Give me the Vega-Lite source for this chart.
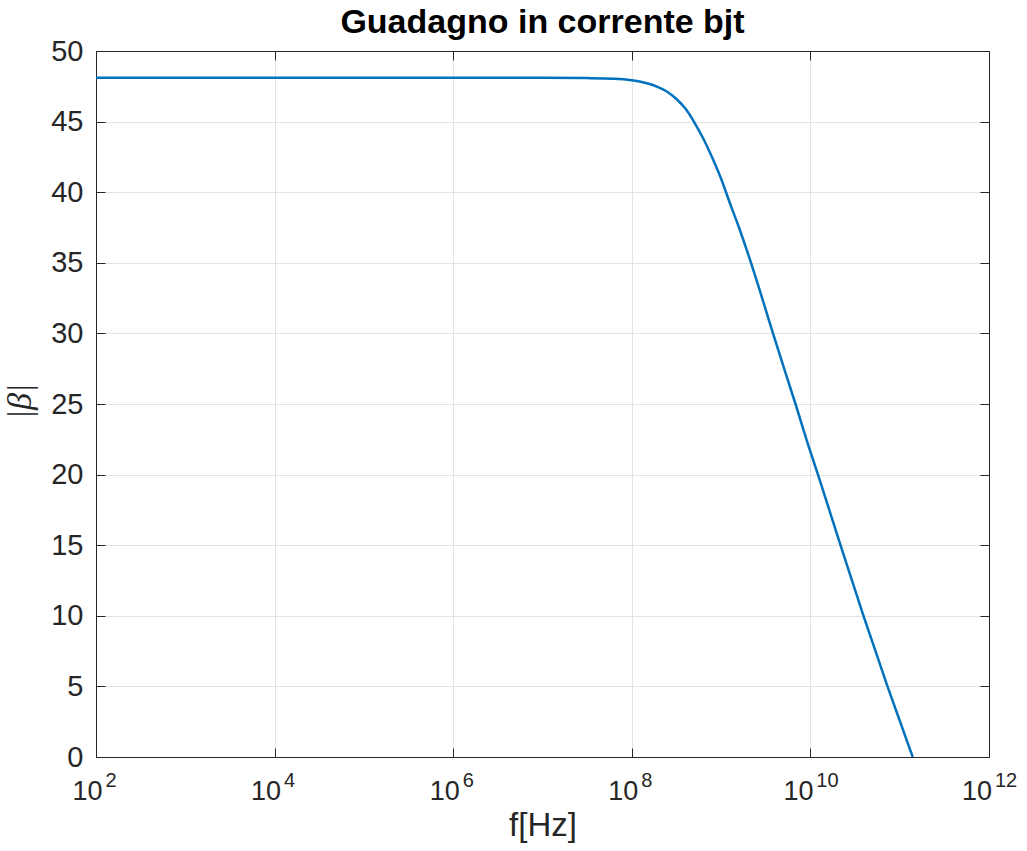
{
  "$schema": "https://vega.github.io/schema/vega-lite/v6.json",
  "width": 893,
  "height": 706,
  "autosize": {"type": "none"},
  "padding": {"left": 96, "top": 51, "right": 38, "bottom": 94},
  "background": "white",
  "config": {
    "view": {"stroke": "#262626", "strokeWidth": 1},
    "font": "Liberation Sans"
  },
  "title": {
    "text": "Guadagno in corrente bjt",
    "fontSize": 34,
    "fontWeight": "bold",
    "font": "Liberation Sans",
    "color": "#000000",
    "anchor": "middle",
    "baseline": "alphabetic",
    "offset": 0,
    "dy": 30
  },
  "data": {
    "values": [
      {"f": 100, "beta": 48.1},
      {"f": 10000, "beta": 48.1},
      {"f": 1000000, "beta": 48.1},
      {"f": 10000000, "beta": 48.1},
      {"f": 31622777, "beta": 48.08},
      {"f": 63095734, "beta": 48.04},
      {"f": 100000000, "beta": 47.93},
      {"f": 125892541, "beta": 47.82},
      {"f": 158489319, "beta": 47.66},
      {"f": 199526231, "beta": 47.42},
      {"f": 251188643, "beta": 47.1},
      {"f": 316227766, "beta": 46.6},
      {"f": 398107171, "beta": 45.92},
      {"f": 501187234, "beta": 44.95},
      {"f": 630957344, "beta": 43.8},
      {"f": 794328235, "beta": 42.45},
      {"f": 1000000000, "beta": 40.95},
      {"f": 1258925412, "beta": 39.2},
      {"f": 1584893192, "beta": 37.5},
      {"f": 1995262315, "beta": 35.67},
      {"f": 2818382931, "beta": 32.7},
      {"f": 3813000000, "beta": 30.0},
      {"f": 6810000000, "beta": 25.0},
      {"f": 10000000000, "beta": 21.62},
      {"f": 12160000000, "beta": 20.0},
      {"f": 21740000000, "beta": 15.0},
      {"f": 39320000000, "beta": 10.0},
      {"f": 73000000000, "beta": 5.0},
      {"f": 139800000000, "beta": 0.0}
    ]
  },
  "layer": [
    {
      "mark": {"type": "line", "color": "#0072BD", "strokeWidth": 2.5, "interpolate": "monotone", "clip": true},
      "encoding": {
        "x": {
          "field": "f",
          "type": "quantitative",
          "scale": {"type": "log", "domain": [100, 1000000000000], "nice": false},
          "axis": {
            "orient": "bottom",
            "values": [100, 10000, 1000000, 100000000, 10000000000, 1000000000000],
            "labelExpr": "'10'",
            "labelFont": "Liberation Sans",
            "labelFontSize": 27,
            "labelColor": "#262626",
            "labelPadding": 30,
            "labelOffset": {"condition": {"test": "datum.value >= 10000000000", "value": -12.5}, "value": -9},
            "labelFlush": false,
            "labelOverlap": false,
            "domainColor": "#262626",
            "tickColor": "#262626",
            "tickSize": -9,
            "grid": true,
            "gridColor": "#e3e3e3",
            "title": "f[Hz]",
            "titleFontSize": 33,
            "titleFontWeight": "normal",
            "titleColor": "#262626",
            "titleBaseline": "alphabetic",
            "titleY": 78
          }
        },
        "y": {
          "field": "beta",
          "type": "quantitative",
          "scale": {"domain": [0, 50], "nice": false, "zero": false},
          "axis": {
            "orient": "left",
            "values": [0, 5, 10, 15, 20, 25, 30, 35, 40, 45, 50],
            "labelFontSize": 29,
            "labelColor": "#262626",
            "labelPadding": 22,
            "labelOverlap": false,
            "labelFlush": false,
            "domainColor": "#262626",
            "tickColor": "#262626",
            "tickSize": -9,
            "grid": true,
            "gridColor": "#e3e3e3",
            "title": "|β|",
            "titleFont": "Liberation Serif",
            "titleFontStyle": "italic",
            "titleFontWeight": "normal",
            "titleFontSize": 34,
            "titleColor": "#262626",
            "titleAngle": -90,
            "titleAlign": "center",
            "titleBaseline": "middle",
            "titleX": -76,
            "titleY": 350
          }
        }
      }
    },
    {
      "mark": {"type": "line", "opacity": 0},
      "encoding": {
        "x": {
          "field": "f",
          "type": "quantitative",
          "axis": {
            "orient": "top",
            "values": [100, 10000, 1000000, 100000000, 10000000000, 1000000000000],
            "labels": false,
            "grid": false,
            "domainColor": "#262626",
            "tickColor": "#262626",
            "tickSize": -9,
            "title": null
          }
        },
        "y": {
          "field": "beta",
          "type": "quantitative",
          "axis": {
            "orient": "right",
            "values": [0, 5, 10, 15, 20, 25, 30, 35, 40, 45, 50],
            "labels": false,
            "grid": false,
            "domainColor": "#262626",
            "tickColor": "#262626",
            "tickSize": -9,
            "title": null
          }
        }
      }
    },
    {
      "mark": {"type": "line", "opacity": 0},
      "encoding": {
        "x": {
          "field": "f",
          "type": "quantitative",
          "axis": {
            "orient": "bottom",
            "values": [100, 10000, 1000000, 100000000, 10000000000, 1000000000000],
            "labelExpr": "format(round(log(datum.value) / LN10), 'd')",
            "labelFont": "Liberation Sans",
            "labelFontSize": 20,
            "labelColor": "#262626",
            "labelPadding": 13,
            "labelOffset": {"condition": {"test": "datum.value >= 10000000000", "value": 16.5}, "value": 14.5},
            "labelFlush": false,
            "labelOverlap": false,
            "domain": false,
            "ticks": false,
            "tickSize": 0,
            "grid": false,
            "title": null
          }
        }
      }
    }
  ],
  "resolve": {"axis": {"x": "independent", "y": "independent"}}
}
